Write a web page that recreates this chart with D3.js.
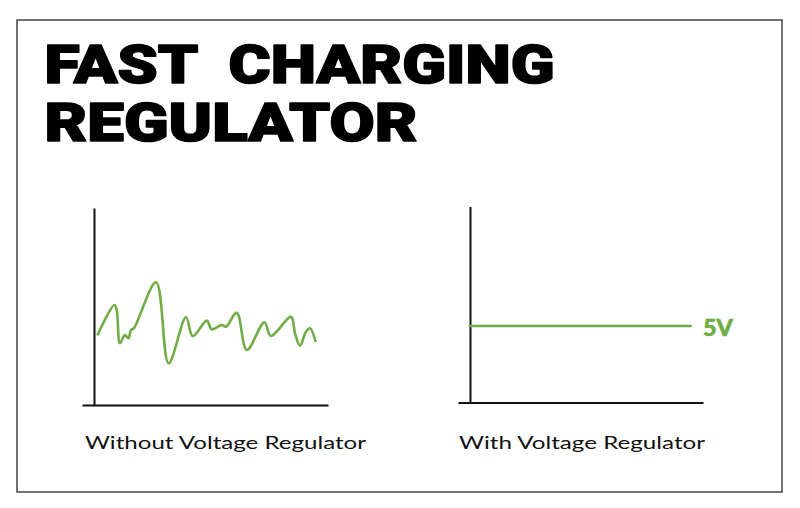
<!DOCTYPE html>
<html>
<head>
<meta charset="utf-8">
<script src="https://cdn.jsdelivr.net/npm/d3@7"></script>
<style>
  body { margin: 0; background: #fff; }
  svg { display: block; }
</style>
</head>
<body>
<svg id="chart" width="800" height="508"></svg>
<script>
// title lines
const titleLines = ['FAST  CHARGING', 'REGULATOR']

// unregulated voltage trace (time %, volts)
const rawTime = [1.6, 8.7, 9.7, 11.1, 13.2, 14.7, 15.8, 17.1, 26.5, 31.9, 39.3, 42.2, 48.2, 50.3,
  54.6, 56.4, 61.0, 65.3, 72.8, 75.6, 84.2, 85.9, 88.0, 90.6, 92.3, 94.6]
const rawVolts = [4.59, 6.50, 6.17, 4.01, 4.55, 4.33, 4.87, 5.00, 7.97, 2.71, 5.70, 4.48, 5.48, 4.92,
  5.20, 5.09, 6.00, 3.57, 5.37, 4.48, 5.74, 4.66, 3.85, 4.76, 4.98, 4.16]

// regulated output
const regTime = [0, 94.7]
const regVolts = [5, 5]
const regLabel = '5V'

const captions = ['Without Voltage Regulator', 'With Voltage Regulator']

const green = '#70ad47'
const svg = d3.select('#chart')

// frame
svg.append('rect')
  .attr('x', 17).attr('y', 20)
  .attr('width', 765).attr('height', 472)
  .attr('fill', 'none')
  .attr('stroke', '#444')
  .attr('stroke-width', 1.5)

// title
const titleBox = [[44.5, 83, 510], [44.5, 141, 373]]
svg.selectAll('text.title')
  .data(titleLines)
  .enter()
  .append('text')
  .attr('class', 'title')
  .attr('x', (d, i) => titleBox[i][0])
  .attr('y', (d, i) => titleBox[i][1])
  .attr('textLength', (d, i) => titleBox[i][2])
  .attr('lengthAdjust', 'spacingAndGlyphs')
  .style('font-family', 'Roboto, sans-serif')
  .style('font-weight', 900)
  .style('font-size', '53px')
  .style('white-space', 'pre')
  .attr('fill', '#000')
  .attr('stroke', '#000')
  .attr('stroke-width', 1.6)
  .attr('stroke-linejoin', 'round')
  .text(d => d)

/**
 * Draws one small panel: L-shaped axes plus the voltage line.
 */
function drawPanel (left, right, bottom, top, times, volts, curve) {
  const x = d3.scaleLinear().domain([0, 100]).range([left, right])
  const y = d3.scaleLinear().domain([0, 12.8]).range([bottom, top])
  const g = svg.append('g')

  // x axis runs a little past the y axis on the left
  const xAxisScale = d3.scaleLinear().domain([0, 1]).range([left - 12, right])
  g.append('g')
    .attr('transform', `translate(0,${bottom})`)
    .call(d3.axisBottom(xAxisScale).tickValues([]).tickSizeOuter(0))
    .select('.domain').attr('stroke', '#111').attr('stroke-width', 2)

  g.append('g')
    .attr('transform', `translate(${left},0)`)
    .call(d3.axisLeft(y).tickValues([]).tickSizeOuter(0))
    .select('.domain').attr('stroke', '#111').attr('stroke-width', 2)

  const line = d3.line()
    .x(d => x(d[0]))
    .y(d => y(d[1]))
    .curve(curve)

  g.append('path')
    .datum(d3.zip(times, volts))
    .attr('d', line)
    .attr('fill', 'none')
    .attr('stroke', green)
    .attr('stroke-width', 2.6)
    .attr('stroke-linejoin', 'round')
    .attr('stroke-linecap', 'round')

  return { x, y }
}

drawPanel(94, 328, 405, 208, rawTime, rawVolts, d3.curveCatmullRom.alpha(0.5))
const reg = drawPanel(470, 703, 402.5, 206.5, regTime, regVolts, d3.curveLinear)

svg.append('text')
  .attr('x', 703)
  .attr('y', reg.y(5) + 10)
  .attr('textLength', 30)
  .attr('lengthAdjust', 'spacingAndGlyphs')
  .style('font-family', 'Lato, sans-serif')
  .style('font-weight', 900)
  .style('font-size', '22px')
  .attr('fill', green)
  .attr('stroke', green)
  .attr('stroke-width', 0.6)
  .text(regLabel)

// captions
const capBox = [[85, 281], [459, 246]]
svg.selectAll('text.caption')
  .data(captions)
  .enter()
  .append('text')
  .attr('class', 'caption')
  .attr('x', (d, i) => capBox[i][0])
  .attr('y', 448.5)
  .attr('textLength', (d, i) => capBox[i][1])
  .attr('lengthAdjust', 'spacingAndGlyphs')
  .style('font-family', 'Lato, sans-serif')
  .style('font-size', '18px')
  .attr('fill', '#111')
  .text(d => d)
</script>
</body>
</html>
